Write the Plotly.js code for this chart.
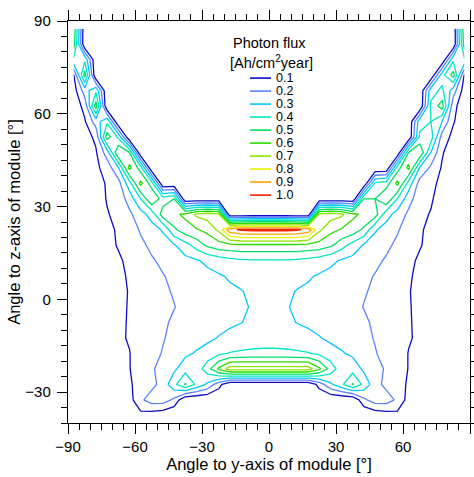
<!DOCTYPE html>
<html><head><meta charset="utf-8">
<script src="https://cdn.plot.ly/plotly-3.0.1.min.js"></script>
<style>html,body{margin:0;padding:0;background:#fff}#chart{width:474px;height:477px}</style>
</head><body><div id="chart"></div>
<script>
// grid: angle to y-axis (columns) and angle to z-axis (rows), degrees
const yAxisAngle = [-87.5,-82.5,-77.5,-72.5,-67.5,-62.5,-57.5,-52.5,-47.5,-42.5,-37.5,-32.5,-27.5,-22.5,-17.5,-12.5,-7.5,-2.5,
                    2.5,7.5,12.5,17.5,22.5,27.5,32.5,37.5,42.5,47.5,52.5,57.5,62.5,67.5,72.5,77.5,82.5,87.5];
const zAxisAngle = [-37.5,-32.5,-27.5,-22.5,-17.5,-12.5,-7.5,-2.5,2.5,7.5,12.5,17.5,22.5,27.5,32.5,37.5,42.5,47.5,52.5,57.5,62.5,67.5,72.5,77.5,82.5,87.5];

// photon flux [Ah/cm2 year], one array per z-angle row
const flux_m37 = [.02,.02,.02,.02,.02,.03,.07,.05,.03,0,0,0,0,0,0,0,0,0, 0,0,0,0,0,0,0,0,0,.03,.05,.07,.03,.02,.02,.02,.02,.02];
const flux_m32 = [.02,.03,.04,.05,.05,.06,.18,.25,.25,.18,0,0,0,0,0,0,0,0, 0,0,0,0,0,0,0,0,.18,.25,.25,.18,.06,.05,.05,.04,.03,.02];
const flux_m27 = [.02,.03,.04,.05,.07,.09,.13,.17,.24,.37,.51,.38,.28,.14,0,0,0,0, 0,0,0,0,.14,.28,.38,.51,.37,.24,.17,.13,.09,.07,.05,.04,.03,.02];
const flux_m22 = [.02,.03,.05,.07,.08,.097,.14,.19,.23,.28,.36,.34,.46,.62,.75,.75,.75,.75, .75,.75,.75,.75,.62,.46,.34,.36,.28,.23,.19,.14,.097,.08,.07,.05,.03,.02];
const flux_m17 = [.02,.03,.05,.07,.09,.098,.13,.175,.205,.24,.28,.31,.34,.38,.405,.415,.42,.42, .42,.42,.415,.405,.38,.34,.31,.28,.24,.205,.175,.13,.098,.09,.07,.05,.03,.02];
const flux_m12 = [.02,.03,.05,.07,.09,.105,.135,.17,.195,.22,.24,.26,.28,.305,.325,.34,.35,.36, .36,.35,.34,.325,.305,.28,.26,.24,.22,.195,.17,.135,.105,.09,.07,.05,.03,.02];
const flux_m07 = [.02,.03,.05,.07,.09,.104,.13,.16,.19,.21,.225,.24,.255,.27,.285,.298,.315,.33, .33,.315,.298,.285,.27,.255,.24,.225,.21,.19,.16,.13,.104,.09,.07,.05,.03,.02];
const flux_m02 = [.02,.03,.05,.07,.09,.103,.13,.16,.185,.198,.215,.23,.245,.26,.275,.29,.305,.32, .32,.305,.29,.275,.26,.245,.23,.215,.198,.185,.16,.13,.103,.09,.07,.05,.03,.02];
const flux_p02 = [.02,.03,.05,.07,.09,.102,.13,.16,.19,.205,.22,.24,.255,.27,.285,.295,.32,.33, .33,.32,.295,.285,.27,.255,.24,.22,.205,.19,.16,.13,.102,.09,.07,.05,.03,.02];
const flux_p07 = [.02,.03,.05,.07,.09,.105,.14,.17,.195,.22,.24,.26,.275,.29,.31,.33,.35,.36, .36,.35,.33,.31,.29,.275,.26,.24,.22,.195,.17,.14,.105,.09,.07,.05,.03,.02];
const flux_p12 = [.02,.03,.05,.07,.09,.115,.15,.19,.22,.25,.27,.29,.32,.35,.37,.385,.39,.39, .39,.39,.385,.37,.35,.32,.29,.27,.25,.22,.19,.15,.115,.09,.07,.05,.03,.02];
const flux_p17 = [.02,.03,.05,.08,.105,.13,.18,.22,.26,.29,.36,.44,.52,.56,.57,.58,.58,.58, .58,.58,.58,.57,.56,.52,.44,.36,.29,.26,.22,.18,.13,.105,.08,.05,.03,.02];
const flux_p22 = [.02,.03,.05,.08,.11,.15,.21,.26,.31,.48,.56,.59,.63,.72,.97,1.02,1.03,1.03, 1.03,1.03,1.02,.97,.72,.63,.59,.56,.48,.31,.26,.21,.15,.11,.08,.05,.03,.02];
const flux_p27 = [.02,.03,.05,.095,.12,.18,.26,.34,.55,.58,.62,.72,.75,.72,0,0,0,0, 0,0,0,0,.72,.75,.72,.62,.58,.55,.34,.26,.18,.12,.095,.05,.03,.02];
const flux_p32 = [.02,.03,.06,.105,.14,.24,.4,.6,.45,.5,0,0,0,0,0,0,0,0, 0,0,0,0,0,0,0,0,.5,.5,.6,.4,.24,.14,.11,.06,.03,.02];
const flux_p37 = [.02,.03,.06,.11,.16,.36,.63,.45,0,0,0,0,0,0,0,0,0,0, 0,0,0,0,0,0,0,0,0,.42,.45,.63,.36,.16,.12,.08,.03,.02];
const flux_p42 = [.02,.03,.08,.14,.29,.63,.45,0,0,0,0,0,0,0,0,0,0,0, 0,0,0,0,0,0,0,0,0,0,0,.45,.63,.29,.18,.09,.03,.02];
const flux_p47 = [.02,.04,.09,.25,.6,.5,0,0,0,0,0,0,0,0,0,0,0,0, 0,0,0,0,0,0,0,0,0,0,0,0,.5,.6,.3,.11,.04,.02];
const flux_p52 = [.02,.06,.12,.55,.38,0,0,0,0,0,0,0,0,0,0,0,0,0, 0,0,0,0,0,0,0,0,0,0,0,0,0,.42,.45,.16,.07,.02];
const flux_p57 = [.03,.09,.25,.38,0,0,0,0,0,0,0,0,0,0,0,0,0,0, 0,0,0,0,0,0,0,0,0,0,0,0,0,.36,.4,.3,.11,.03];
const flux_p62 = [.04,.13,.55,0,0,0,0,0,0,0,0,0,0,0,0,0,0,0, 0,0,0,0,0,0,0,0,0,0,0,0,0,0,.42,.55,.13,.04];
const flux_p67 = [.05,.25,.38,0,0,0,0,0,0,0,0,0,0,0,0,0,0,0, 0,0,0,0,0,0,0,0,0,0,0,0,0,0,.36,.42,.25,.05];
const flux_p72 = [.09,.54,0,0,0,0,0,0,0,0,0,0,0,0,0,0,0,0, 0,0,0,0,0,0,0,0,0,0,0,0,0,0,0,.36,.54,.09];
const flux_p77 = [.38,.38,0,0,0,0,0,0,0,0,0,0,0,0,0,0,0,0, 0,0,0,0,0,0,0,0,0,0,0,0,0,0,0,0,.38,.38];
const flux_p82 = [.55,0,0,0,0,0,0,0,0,0,0,0,0,0,0,0,0,0, 0,0,0,0,0,0,0,0,0,0,0,0,0,0,0,0,0,.55];
const flux_p87 = [.58,0,0,0,0,0,0,0,0,0,0,0,0,0,0,0,0,0, 0,0,0,0,0,0,0,0,0,0,0,0,0,0,0,0,0,.58];

const levels = [0.1,0.2,0.3,0.4,0.5,0.6,0.7,0.8,0.9,1.0];
const levelLabels = ['0.1','0.2','0.3','0.4','0.5','0.6','0.7','0.8','0.9','1.0'];
const levelColors = ['#0a0ac8','#5a82ff','#00c8ff','#00e6c3','#00e060','#28dc00','#8ce600','#e6f000','#ffa000','#ff2000'];

const fluxGrid = [flux_m37,flux_m32,flux_m27,flux_m22,flux_m17,flux_m12,flux_m07,flux_m02,
  flux_p02,flux_p07,flux_p12,flux_p17,flux_p22,flux_p27,flux_p32,flux_p37,flux_p42,flux_p47,
  flux_p52,flux_p57,flux_p62,flux_p67,flux_p72,flux_p77,flux_p82,flux_p87];

const colorscale = levelColors.map((c, i) => [i / (levelColors.length - 1), c]);

const trace = {
  type: 'contour', x: yAxisAngle, y: zAxisAngle, z: fluxGrid,
  autocontour: false,
  contours: {start: levels[0], end: levels[levels.length - 1], size: 0.1, coloring: 'lines', showlabels: false},
  colorscale: colorscale, showscale: false,
  line: {width: 1.3, smoothing: 0},
  hoverinfo: 'skip', showlegend: false
};

const FONT = 'Liberation Sans, Arial, sans-serif';
const shapes = [], annotations = [];
annotations.push({xref:'paper', yref:'paper', x:0.5, y:0.946, text:'Photon flux', showarrow:false,
  xanchor:'center', yanchor:'middle', font:{family:FONT, size:14.5, color:'#000'}});
annotations.push({xref:'paper', yref:'paper', x:0.505, y:0.899, text:'[Ah/cm<sup>2</sup>year]', showarrow:false,
  xanchor:'center', yanchor:'middle', font:{family:FONT, size:14.5, color:'#000'}});
levels.forEach((v, k) => {
  const yy = 0.858 - 0.03234 * k;
  shapes.push({type:'line', xref:'paper', yref:'paper', x0:0.4527, x1:0.505, y0:yy, y1:yy,
    line:{color: levelColors[k], width: 1.6}});
  annotations.push({xref:'paper', yref:'paper', x:0.512, y:yy, text: levelLabels[k], showarrow:false,
    xanchor:'left', yanchor:'middle', font:{family:FONT, size:12.5, color:'#000'}});
});

const axisCommon = {
  showgrid:false, zeroline:false, showline:true, linecolor:'#000', linewidth:1.2,
  mirror:'allticks', ticks:'outside', ticklen:10, tickwidth:1, tickcolor:'#000',
  dtick:30, tick0:0,
  minor:{dtick:5, ticks:'outside', ticklen:6, tickwidth:1, tickcolor:'#000'},
  tickfont:{family:FONT, size:15, color:'#000'}
};

const layout = {
  width:474, height:477,
  margin:{l:68, r:4, t:21, b:54},
  paper_bgcolor:'#fff', plot_bgcolor:'#fff',
  xaxis: Object.assign({}, axisCommon, {range:[-90,90],
    title:{text:'Angle to y-axis of module [°]', font:{family:FONT, size:16.5, color:'#000'}, standoff:4}}),
  yaxis: Object.assign({}, axisCommon, {range:[-40,90], ticklabelstandoff:3,
    title:{text:'Angle to z-axis of module [°]', font:{family:FONT, size:16.5, color:'#000'}, standoff:0}}),
  shapes: shapes, annotations: annotations,
  showlegend:false
};

Plotly.newPlot('chart', [trace], layout, {displayModeBar:false, staticPlot:true});
</script>
</body></html>
